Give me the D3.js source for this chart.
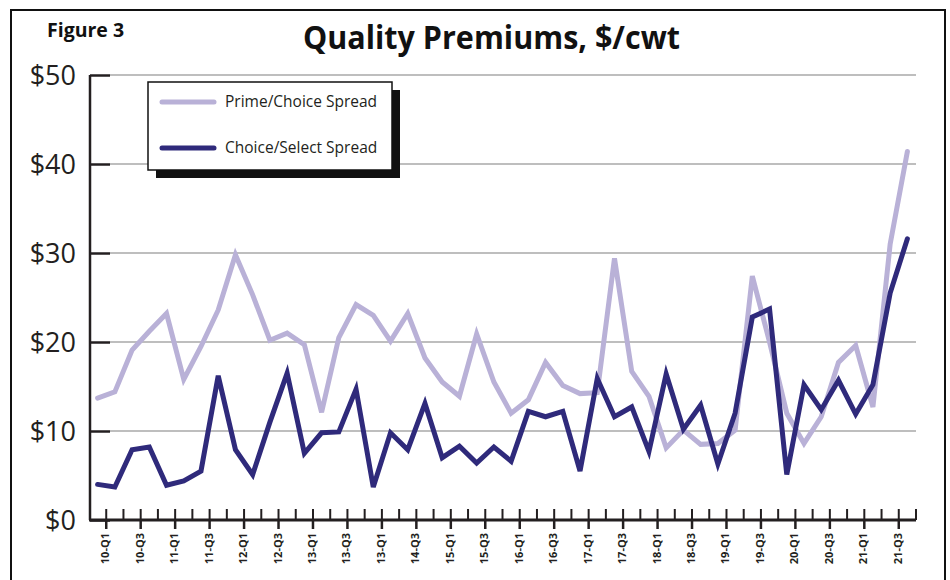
<!DOCTYPE html>
<html>
<head>
<meta charset="utf-8">
<script src="https://cdn.jsdelivr.net/npm/d3@7"></script>
<style>
  body { margin: 0; background: #fff; }
  svg { display: block; font-family: "Open Sans", sans-serif; }
</style>
</head>
<body>
<script>
// quarters 2010-Q1 .. 2021-Q4
var years = d3.range(10, 22);
var quarters = [];
years.forEach(function(y) { [1, 2, 3, 4].forEach(function(q) { quarters.push(y + "-Q" + q); }); });

// labels under every second quarter (as printed, incl. the repeated 13-Q1)
var tickLabels = ["10-Q1","10-Q3","11-Q1","11-Q3","12-Q1","12-Q3","13-Q1","13-Q3",
    "13-Q1","14-Q3","15-Q1","15-Q3","16-Q1","16-Q3","17-Q1","17-Q3",
    "18-Q1","18-Q3","19-Q1","19-Q3","20-Q1","20-Q3","21-Q1","21-Q3"];

var yTicks = [0, 10, 20, 30, 40, 50];

var primeChoice = [13.7,14.4,19.1,21.2,23.2,15.8,19.5,23.6,29.8,25.3,
    20.2,21.0,19.7,12.1,20.5,24.2,23.0,20.1,23.2,18.2,
    15.5,13.9,20.9,15.5,12.0,13.5,17.7,15.1,14.2,14.3,
    29.4,16.7,13.9,8.1,10.1,8.5,8.6,10.1,27.4,20.0,
    12.0,8.6,11.6,17.7,19.6,12.7,31.0,41.4];

var choiceSelect = [4.0,3.7,7.9,8.2,3.9,4.4,5.5,16.2,7.9,5.1,
    11.0,16.5,7.5,9.8,9.9,14.7,3.7,9.8,7.9,13.1,
    7.0,8.3,6.4,8.2,6.6,12.2,11.6,12.2,5.5,15.9,
    11.6,12.7,7.7,16.4,10.2,12.9,6.3,12.0,22.8,23.7,
    5.1,15.2,12.4,15.7,11.9,15.2,25.5,31.6];

var seriesNames = ["Prime/Choice Spread", "Choice/Select Spread"];
var seriesColors = ["#b9b1d7", "#2f2a7b"];

var width = 950, height = 580;

var svg = d3.select("body").append("svg")
    .attr("width", width)
    .attr("height", height);

// page frame
svg.append("rect")
    .attr("x", 11).attr("y", 10)
    .attr("width", 934).attr("height", 620)
    .attr("fill", "#fff")
    .attr("stroke", "#111")
    .attr("stroke-width", 2);

var x = d3.scaleBand()
    .domain(quarters)
    .range([89, 916]);

var y = d3.scaleLinear()
    .domain([0, 50])
    .range([520, 75]);

//Gridlines
svg.append("g")
    .selectAll("line")
    .data(yTicks.slice(1))
    .enter().append("line")
    .attr("x1", 110).attr("x2", 916)
    .attr("y1", function(d) { return y(d); })
    .attr("y2", function(d) { return y(d); })
    .attr("stroke", "#a9a9a9")
    .attr("stroke-width", 1.5);

//Y axis
var yAxis = svg.append("g")
    .attr("transform", "translate(90,0)")
    .call(d3.axisRight(y)
        .tickValues(yTicks)
        .tickSize(20)
        .tickFormat(""));
yAxis.select(".domain").attr("stroke", "#231f20").attr("stroke-width", 2.5)
    .attr("d", "M0," + y(50) + "V" + y(0));
yAxis.selectAll(".tick line").attr("stroke", "#231f20").attr("stroke-width", 2.5);

svg.append("g")
    .selectAll("text")
    .data(yTicks)
    .enter().append("text")
    .attr("x", 76)
    .attr("y", function(d) { return y(d) + 10; })
    .attr("text-anchor", "end")
    .attr("font-size", 27)
    .attr("fill", "#231f20")
    .text(function(d) { return "$" + d; });

//X axis: minor ticks up at every quarter boundary, long ticks down at labels
var bounds = quarters.map(function(q) { return x(q); }).concat([x.range()[1]]);
var xg = svg.append("g");
xg.selectAll("line.minor")
    .data(bounds.slice(1))
    .enter().append("line")
    .attr("class", "minor")
    .attr("x1", function(d) { return d; }).attr("x2", function(d) { return d; })
    .attr("y1", y(0) - 11).attr("y2", y(0))
    .attr("stroke", "#231f20").attr("stroke-width", 2);

var labelPos = tickLabels.map(function(t, j) { return x(quarters[2 * j]) + x.bandwidth(); });

xg.selectAll("line.major")
    .data(labelPos)
    .enter().append("line")
    .attr("class", "major")
    .attr("x1", function(d) { return d; }).attr("x2", function(d) { return d; })
    .attr("y1", y(0)).attr("y2", y(0) + 9)
    .attr("stroke", "#231f20").attr("stroke-width", 2.5);

xg.append("line")
    .attr("x1", 89).attr("x2", 916)
    .attr("y1", y(0)).attr("y2", y(0))
    .attr("stroke", "#231f20").attr("stroke-width", 3);

xg.selectAll("text")
    .data(tickLabels)
    .enter().append("text")
    .attr("transform", function(d, j) {
        return "translate(" + (labelPos[j] + 3) + "," + (y(0) + 13) + ") rotate(-90)";
    })
    .attr("text-anchor", "end")
    .attr("font-size", 11)
    .attr("font-weight", 700)
    .attr("fill", "#231f20")
    .text(function(d) { return d; });

//Lines
var line = d3.line()
    .x(function(d, i) { return x(quarters[i]) + x.bandwidth() / 2; })
    .y(function(d) { return y(d); });

[primeChoice, choiceSelect].forEach(function(s, k) {
    svg.append("path")
        .datum(s)
        .attr("d", line)
        .attr("fill", "none")
        .attr("stroke", seriesColors[k])
        .attr("stroke-width", 5)
        .attr("stroke-linejoin", "miter")
        .attr("stroke-linecap", "round");
});

//Legend
var lg = svg.append("g");
lg.append("rect")
    .attr("x", 156).attr("y", 90)
    .attr("width", 244).attr("height", 88)
    .attr("fill", "#111");
lg.append("rect")
    .attr("x", 148).attr("y", 82)
    .attr("width", 244).attr("height", 88)
    .attr("fill", "#fff")
    .attr("stroke", "#111")
    .attr("stroke-width", 1.5);

seriesNames.forEach(function(name, k) {
    var ly = 102 + k * 46;
    lg.append("line")
        .attr("x1", 162).attr("x2", 214)
        .attr("y1", ly).attr("y2", ly)
        .attr("stroke", seriesColors[k])
        .attr("stroke-width", 5)
        .attr("stroke-linecap", "round");
    lg.append("text")
        .attr("x", 225).attr("y", ly + 5)
        .attr("font-size", 15.5)
        .attr("fill", "#231f20")
        .text(name);
});

//Titles
svg.append("text")
    .attr("x", 47).attr("y", 37)
    .attr("font-size", 19.5)
    .attr("font-weight", 700)
    .attr("fill", "#111")
    .text("Figure 3");

svg.append("text")
    .attr("x", 303).attr("y", 49)
    .attr("font-size", 33)
    .attr("font-weight", 700)
    .attr("fill", "#111")
    .attr("textLength", 377)
    .attr("lengthAdjust", "spacingAndGlyphs")
    .text("Quality Premiums, $/cwt");
</script>
</body>
</html>
